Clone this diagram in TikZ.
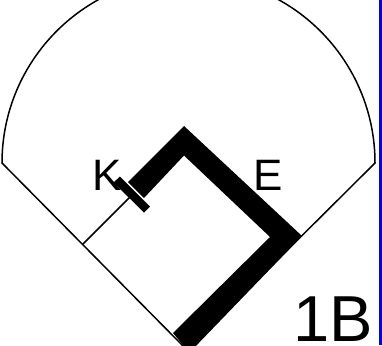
\documentclass[tikz,border=0pt]{standalone}
\usepackage{fontspec}
\setmainfont{Liberation Sans}
\tikzset{
  fieldline/.style={draw=black,line width=1.5pt,line join=miter},
  runner/.style={fill=black,draw=none},
  lbl/.style={inner sep=0pt,outer sep=0pt,anchor=base west,text=black},
  smalllbl/.style={lbl,font=\fontsize{44}{44}\selectfont},
  biglbl/.style={lbl,font=\fontsize{65}{65}\selectfont}
}
\begin{document}
\begin{tikzpicture}[x=1pt,y=-1pt]
\path[use as bounding box,fill=white] (0,0) rectangle (382,345);
\begin{scope}
\clip (0,0) rectangle (382,345);
% outfield and foul lines
\coordinate (left) at (2,163);
\coordinate (right) at (375,163);
\coordinate (home) at (187,350);
\coordinate (third) at (83,244);
\coordinate (tickfoot) at (131,196);
\draw[fieldline] (left) arc[start angle=180,end angle=360,radius=186.5] -- (home) -- cycle;
\draw[fieldline] (third) -- (tickfoot);
% thick running path
\fill[runner] (128,182) -- (184,126) -- (302,236) -- (192,350) -- (187,350) -- (173,333)
  -- (270,237) -- (184,155.5) -- (144,198) -- cycle;
% tick
\fill[runner] (120,176.5) -- (150,206.5) -- (144,212.5) -- (113.5,182.5) -- cycle;
\node[smalllbl] (k) at (92,190) {K};
\node[smalllbl] (e) at (253,190) {E};
\node[biglbl] (b) at (293,341) {1B};
\fill[blue] (379,0) rectangle (382,345);
\end{scope}
\end{tikzpicture}
\end{document}
